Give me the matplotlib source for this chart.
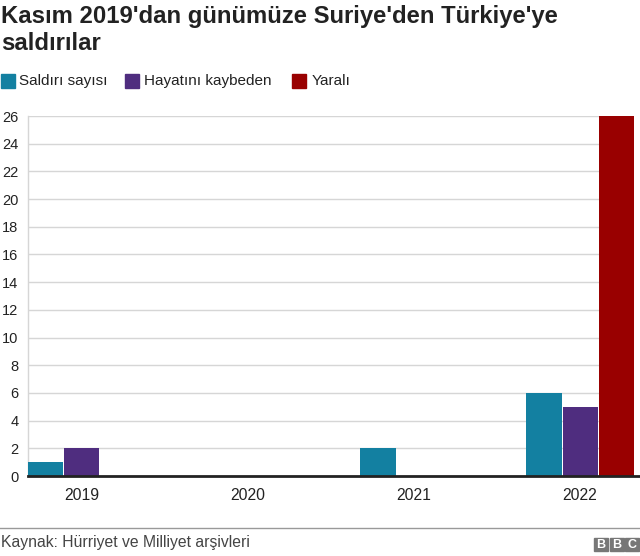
import numpy as np
import matplotlib.pyplot as plt
from matplotlib.patches import Rectangle
from matplotlib.lines import Line2D

plt.rcParams['font.family'] = ['Liberation Sans', 'DejaVu Sans']

years = ['2019', '2020', '2021', '2022']
series = ['Saldırı sayısı', 'Hayatını kaybeden', 'Yaralı']
saldiri = [1, 0, 2, 6]
hayatini = [2, 0, 0, 5]
yarali = [0, 0, 0, 26]
colors = ['#1380A1', '#4f2d7f', '#990000']
yticks = list(range(0, 27, 2))

title = "Kasım 2019'dan günümüze Suriye'den Türkiye'ye\nsaldırılar"
source = "Kaynak: Hürriyet ve Milliyet arşivleri"

W, H = 640, 556
fig = plt.figure(figsize=(W / 100, H / 100), dpi=100)
ax = fig.add_axes([28 / W, 80 / H, 606 / W, 360 / H])

x = np.arange(len(years))
bw = 0.211
step = 0.217
for i, (vals, c) in enumerate(zip([saldiri, hayatini, yarali], colors)):
    ax.bar(x + (i - 1) * step, vals, width=bw, color=c, zorder=3)

ax.set_xlim(-0.325, 3.325)
ax.set_ylim(0, 26)
ax.set_yticks(yticks)
ax.set_xticks(x)
ax.set_xticklabels(years, fontsize=11.3, color='#222222')
ax.tick_params(axis='y', length=0, pad=7, labelsize=10.5, labelcolor='#222222')
ax.tick_params(axis='x', length=0, pad=9)
ax.grid(axis='y', color='#d6d6d6', lw=1, zorder=0)
for s in ['top', 'right', 'bottom']:
    ax.spines[s].set_visible(False)
ax.spines['left'].set_color('#d6d6d6')
ax.spines['left'].set_linewidth(1)
ax.plot([0, 1.02], [0, 0], transform=ax.transAxes, color='#222222', lw=2,
        clip_on=False, zorder=4)

# title
fig.text(1 / W, 1 - 5 / H, title, fontsize=17.2, fontweight='bold', color='#222222',
         va='top', ha='left', linespacing=1.22)

# legend
lx = [1, 125, 292]
tx = [19, 144, 312]
for px, t, name, c in zip(lx, tx, series, colors):
    fig.patches.append(Rectangle((px / W, 1 - 88 / H), 14 / W, 14 / H,
                                 transform=fig.transFigure, color=c))
    fig.text(t / W, 1 - 81 / H, name, fontsize=11, color='#222222',
             va='center', ha='left')

# footer
fig.add_artist(Line2D([0, 1], [1 - 528 / H] * 2, transform=fig.transFigure,
                      color='#999999', lw=1))
fig.text(1 / W, 1 - 542 / H, source, fontsize=11.3, color='#444444',
         va='center', ha='left')
for k, letter in enumerate('BBC'):
    bx = 594 + k * 15.5
    fig.patches.append(Rectangle((bx / W, 1 - 551 / H), 14 / W, 13 / H,
                                 transform=fig.transFigure, color='#777777'))
    fig.text((bx + 7) / W, 1 - 544.5 / H, letter, fontsize=9, fontweight='bold',
             color='white', va='center', ha='center')

fig.savefig('out.png', dpi=100)
